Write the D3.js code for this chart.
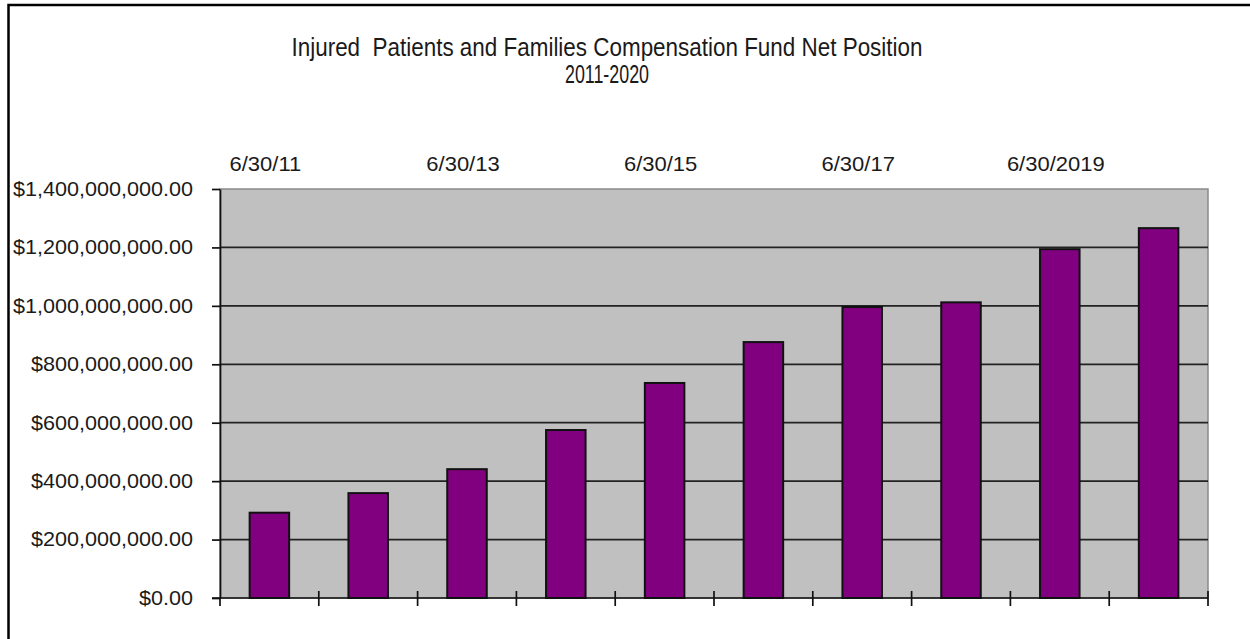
<!DOCTYPE html>
<html>
<head>
<meta charset="utf-8">
<script src="https://cdn.jsdelivr.net/npm/d3@7"></script>
<style>
	body { margin: 0; background: #fff; }
	text { font-family: "Liberation Sans", Arial, sans-serif; fill: #1a1a1a; }
</style>
</head>
<body>
<div id="chart"></div>
<script>
// fund net position at each 6/30, in dollars
const categories = ["6/30/11", "6/30/12", "6/30/13", "6/30/14", "6/30/15", "6/30/16", "6/30/17", "6/30/18", "6/30/2019", "6/30/2020"]
const shownLabels = ["6/30/11", "6/30/13", "6/30/15", "6/30/17", "6/30/2019"]
const netPosition = [292e6, 359e6, 441e6, 575e6, 736e6, 876e6, 996e6, 1012e6, 1194e6, 1266e6]
const yTicks = [0, 200e6, 400e6, 600e6, 800e6, 1000e6, 1200e6, 1400e6]
const titleLines = ["Injured  Patients and Families Compensation Fund Net Position", "2011-2020"]

const width = 1250
const height = 639
const margin = ({top: 189, right: 42, bottom: 41, left: 220})

// the original's axis text is a little wider than plain Arial
const stretch = 1.08

const svg = d3.select("#chart")
	.append("svg")
		.attr("width", width)
		.attr("height", height)

// outer chart frame (runs off the right and bottom of the picture)
svg.append("rect")
	.attr("x", 8.5).attr("y", 5)
	.attr("width", width + 20).attr("height", height + 20)
	.attr("fill", "none")
	.attr("stroke", "#000")
	.attr("stroke-width", 2.5)

const x = d3.scaleBand()
	.domain(categories)
	.range([margin.left, width - margin.right])
	.paddingInner(0.6)
	.paddingOuter(0.3)

const y = d3.scaleLinear()
	.domain([0, 1400e6])
	.range([height - margin.bottom, margin.top])

const fmt = d => "$" + d3.format(",.2f")(d)

// plot area
svg.append("rect")
	.attr("x", margin.left)
	.attr("y", y(1400e6))
	.attr("width", width - margin.right - margin.left)
	.attr("height", y(0) - y(1400e6))
	.attr("fill", "#c0c0c0")
	.attr("stroke", "#8a8a8a")
	.attr("stroke-width", 1.5)

// gridlines
svg.append("g")
	.selectAll("line")
	.data(yTicks.filter(d => d > 0 && d < 1400e6))
	.join("line")
		.attr("x1", margin.left)
		.attr("x2", width - margin.right)
		.attr("y1", d => y(d))
		.attr("y2", d => y(d))
		.attr("stroke", "#222")
		.attr("stroke-width", 1.7)

// bars
svg.append("g")
	.selectAll("rect")
	.data(netPosition)
	.join("rect")
		.attr("x", (d, i) => x(categories[i]))
		.attr("y", d => y(d))
		.attr("width", x.bandwidth())
		.attr("height", d => y(0) - y(d))
		.attr("fill", "#800080")
		.attr("stroke", "#111")
		.attr("stroke-width", 2)

// y axis
const yAxis = g => g
	.attr("transform", `translate(${margin.left},0)`)
	.call(d3.axisLeft(y).tickValues(yTicks).tickFormat(fmt).tickSize(8).tickPadding(19).tickSizeOuter(0))
	.call(g => g.selectAll("line, path").attr("stroke", "#111").attr("stroke-width", 1.7))
	.call(g => g.selectAll("text")
		.attr("font-size", 20)
		.attr("font-family", null)
		.attr("fill", "#1a1a1a")
		.attr("x", -27 / stretch)
		.attr("transform", `scale(${stretch},1)`))

svg.append("g").call(yAxis)

// x axis line + ticks on the category boundaries
const bounds = d3.range(categories.length + 1).map(i => margin.left + i * x.step())
const xg = svg.append("g")
xg.append("line")
	.attr("x1", margin.left - 8)
	.attr("x2", width - margin.right)
	.attr("y1", y(0))
	.attr("y2", y(0))
	.attr("stroke", "#111")
	.attr("stroke-width", 1.7)
xg.selectAll(".tick")
	.data(bounds)
	.join("line")
		.attr("x1", d => d)
		.attr("x2", d => d)
		.attr("y1", (d, i) => i == 0 ? y(0) : y(0) - 7)
		.attr("y2", y(0) + 8)
		.attr("stroke", "#111")
		.attr("stroke-width", 1.7)

// category labels sit above the plot
svg.append("g")
	.selectAll("text")
	.data(shownLabels)
	.join("text")
		.attr("transform", d => `translate(${x(d) + x.bandwidth() / 2 - 4},171) scale(1.1,1)`)
		.attr("text-anchor", "middle")
		.attr("font-size", 20)
		.text(d => d)

// title, drawn narrow like the original
svg.append("g")
	.selectAll("text")
	.data(titleLines)
	.join("text")
		.attr("x", 607)
		.attr("y", (d, i) => 56 + i * 27)
		.attr("text-anchor", "middle")
		.attr("font-size", 25)
		.style("white-space", "pre")
		.attr("textLength", (d, i) => i == 0 ? 631 : 84)
		.attr("lengthAdjust", "spacingAndGlyphs")
		.text(d => d)
</script>
</body>
</html>
